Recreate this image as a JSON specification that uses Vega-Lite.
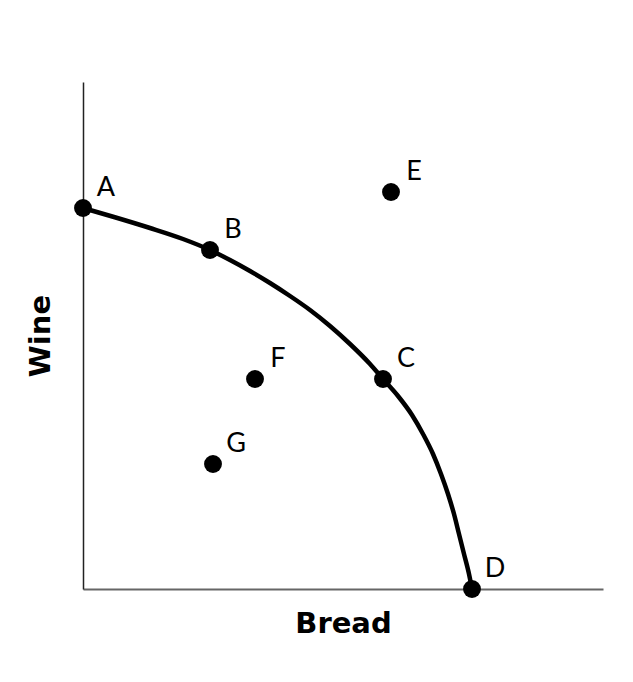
{
  "$schema": "https://vega.github.io/schema/vega-lite/v6.json",
  "width": 520,
  "height": 507,
  "autosize": {"type": "none"},
  "padding": {"left": 83, "top": 82, "right": 30, "bottom": 93},
  "background": "white",
  "config": {"view": {"stroke": null}},
  "datasets": {
    "curve": [
      {"bread": 0, "wine": 381},
      {"bread": 31, "wine": 372},
      {"bread": 67, "wine": 361},
      {"bread": 100, "wine": 350},
      {"bread": 127, "wine": 339},
      {"bread": 147, "wine": 329},
      {"bread": 167, "wine": 318},
      {"bread": 187, "wine": 306},
      {"bread": 207, "wine": 293},
      {"bread": 227, "wine": 279},
      {"bread": 247, "wine": 263},
      {"bread": 267, "wine": 245},
      {"bread": 287, "wine": 225},
      {"bread": 300, "wine": 210},
      {"bread": 315, "wine": 193},
      {"bread": 329, "wine": 174},
      {"bread": 340, "wine": 155},
      {"bread": 350, "wine": 135},
      {"bread": 358, "wine": 115},
      {"bread": 365, "wine": 95},
      {"bread": 371, "wine": 75},
      {"bread": 376, "wine": 55},
      {"bread": 381, "wine": 35},
      {"bread": 386, "wine": 15},
      {"bread": 389, "wine": 0}
    ],
    "points": [
      {"label": "A", "bread": 0, "wine": 381},
      {"label": "B", "bread": 127, "wine": 339},
      {"label": "C", "bread": 300, "wine": 210},
      {"label": "D", "bread": 389, "wine": 0},
      {"label": "E", "bread": 308, "wine": 397},
      {"label": "F", "bread": 172, "wine": 210},
      {"label": "G", "bread": 130, "wine": 125}
    ]
  },
  "encoding": {
    "x": {
      "field": "bread", "type": "quantitative",
      "scale": {"domain": [0, 520], "nice": false, "zero": false},
      "axis": {
        "title": "Bread", "labels": false, "ticks": false, "grid": false,
        "domainColor": "#666666", "domainWidth": 2,
        "titleFont": "DejaVu Sans", "titleFontSize": 29, "titleFontWeight": "bold",
        "titleColor": "black", "titlePadding": 20
      }
    },
    "y": {
      "field": "wine", "type": "quantitative",
      "scale": {"domain": [0, 507], "nice": false, "zero": false},
      "axis": {
        "title": "Wine", "labels": false, "ticks": false, "grid": false,
        "domainColor": "#222222", "domainWidth": 1.5,
        "titleFont": "DejaVu Sans", "titleFontSize": 29, "titleFontWeight": "bold",
        "titleColor": "black", "titlePadding": 28
      }
    }
  },
  "layer": [
    {
      "data": {"name": "curve"},
      "mark": {"type": "line", "color": "black", "strokeWidth": 4.5, "interpolate": "monotone"}
    },
    {
      "data": {"name": "points"},
      "mark": {"type": "circle", "color": "black", "opacity": 1, "size": 320}
    },
    {
      "data": {"name": "points"},
      "mark": {"type": "text", "font": "Lato", "fontSize": 27, "color": "black", "dx": 23, "dy": -20, "align": "center", "baseline": "middle"},
      "encoding": {"text": {"field": "label"}}
    }
  ]
}
